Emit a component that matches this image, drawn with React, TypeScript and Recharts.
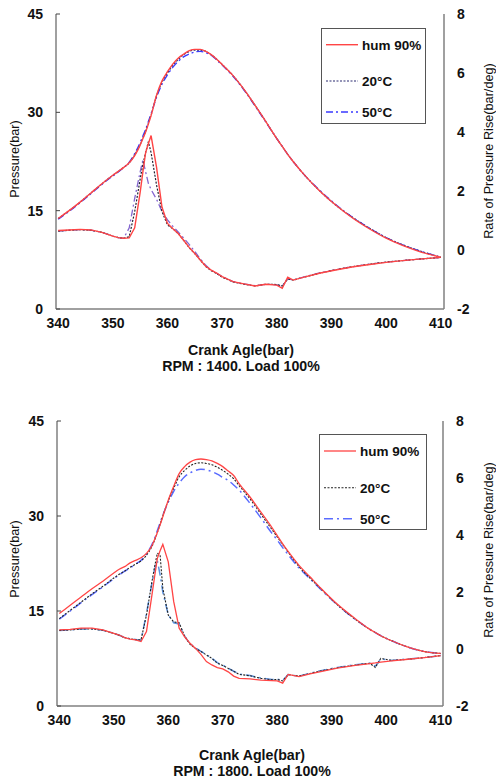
import { ComposedChart, Line, XAxis, YAxis } from 'recharts';

// crank angle samples (deg) and readings for RPM 1400
const topAngles = [340, 342, 344, 346, 348, 350, 351, 352, 353, 354, 355, 355.5, 356, 356.5, 357, 358, 359, 360, 361, 362, 363, 364, 365, 366, 367, 368, 369, 370, 372, 374, 376, 378, 380, 381, 382, 383, 385, 388, 391, 394, 397, 400, 403, 406, 410];
const topHumP = [13.8, 15.0, 16.3, 17.7, 19.1, 20.4, 21.0, 21.6, 22.3, 23.4, 25.0, 26.0, 27.0, 28.2, 29.5, 32.6, 34.8, 36.2, 37.4, 38.3, 38.9, 39.4, 39.6, 39.6, 39.3, 38.8, 38.1, 37.3, 35.6, 33.5, 31.1, 28.6, 26.0, 24.8, 23.6, 22.5, 20.5, 17.9, 15.7, 13.8, 12.2, 10.8, 9.7, 8.8, 7.9];
const top20P = [13.8, 15.0, 16.3, 17.7, 19.1, 20.4, 21.0, 21.6, 22.3, 23.5, 25.1, 26.1, 27.1, 28.3, 29.6, 32.5, 34.6, 36.0, 37.2, 38.1, 38.8, 39.3, 39.5, 39.5, 39.3, 38.8, 38.1, 37.3, 35.6, 33.5, 31.1, 28.6, 26.0, 24.8, 23.6, 22.5, 20.5, 17.9, 15.7, 13.9, 12.3, 10.9, 9.8, 8.9, 7.9];
const top50P = [13.7, 14.9, 16.2, 17.6, 19.0, 20.3, 20.9, 21.6, 22.4, 23.7, 25.4, 26.4, 27.4, 28.6, 29.8, 32.3, 34.3, 35.7, 36.9, 37.8, 38.5, 38.9, 39.2, 39.3, 39.1, 38.7, 38.0, 37.2, 35.5, 33.4, 31.0, 28.5, 26.0, 24.8, 23.6, 22.5, 20.5, 18.0, 15.8, 13.9, 12.3, 10.9, 9.8, 8.9, 7.9];
const topHumR = [0.66, 0.68, 0.70, 0.68, 0.60, 0.47, 0.42, 0.40, 0.41, 0.75, 1.95, 2.65, 3.30, 3.60, 3.88, 2.80, 1.45, 0.90, 0.72, 0.55, 0.32, 0.08, -0.12, -0.34, -0.55, -0.68, -0.78, -0.90, -1.07, -1.15, -1.22, -1.16, -1.19, -1.30, -0.92, -1.02, -0.92, -0.78, -0.67, -0.57, -0.49, -0.42, -0.36, -0.31, -0.25];
const top20R = [0.64, 0.67, 0.69, 0.67, 0.60, 0.47, 0.42, 0.40, 0.45, 1.30, 2.40, 2.90, 3.30, 3.67, 3.30, 2.20, 1.30, 0.85, 0.72, 0.55, 0.32, 0.07, -0.12, -0.34, -0.56, -0.70, -0.80, -0.92, -1.08, -1.16, -1.22, -1.16, -1.17, -1.22, -0.98, -1.02, -0.92, -0.78, -0.66, -0.56, -0.48, -0.41, -0.36, -0.31, -0.25];
const top50R = [0.64, 0.67, 0.69, 0.67, 0.60, 0.47, 0.42, 0.40, 0.75, 1.75, 2.65, 3.05, 2.65, 2.26, 2.05, 1.72, 1.30, 1.02, 0.80, 0.60, 0.40, 0.18, -0.05, -0.30, -0.52, -0.68, -0.79, -0.90, -1.07, -1.15, -1.21, -1.16, -1.18, -1.22, -0.98, -1.02, -0.91, -0.77, -0.66, -0.56, -0.48, -0.41, -0.36, -0.31, -0.25];

// readings for RPM 1800
const btmAngles = [340, 342, 344, 346, 348, 350, 351, 352, 353, 354, 355, 356, 357, 357.5, 358, 358.5, 359, 360, 361, 362, 363, 364, 365, 366, 367, 368, 369, 370, 371, 372, 373, 375, 377, 379, 380, 381, 382, 384, 386, 388, 391, 394, 397, 398, 399, 401, 404, 407, 410];
const btmHumP = [14.6, 15.9, 17.2, 18.5, 19.7, 21.0, 21.6, 22.0, 22.6, 23.0, 23.4, 24.1, 25.3, 26.3, 27.4, 28.6, 29.9, 32.5, 34.7, 36.7, 37.8, 38.5, 38.9, 39.0, 38.9, 38.7, 38.3, 37.8, 37.1, 36.4, 35.1, 33.0, 30.6, 28.2, 26.9, 25.6, 24.4, 22.2, 20.4, 18.6, 16.1, 14.0, 12.1, 11.6, 11.1, 10.3, 9.3, 8.6, 8.3];
const btm20P = [13.8, 15.1, 16.4, 17.7, 18.9, 20.2, 20.8, 21.3, 21.9, 22.4, 22.9, 23.8, 25.2, 26.2, 27.4, 28.7, 30.0, 32.4, 34.4, 36.2, 37.2, 37.9, 38.3, 38.4, 38.3, 38.1, 37.7, 37.2, 36.6, 35.9, 34.8, 32.7, 30.3, 27.9, 26.7, 25.5, 24.3, 22.0, 20.2, 18.5, 16.0, 13.9, 12.1, 11.6, 11.1, 10.3, 9.3, 8.6, 8.3];
const btm50P = [13.7, 15.0, 16.3, 17.6, 18.8, 20.1, 20.7, 21.3, 21.8, 22.4, 23.0, 24.0, 25.5, 26.5, 27.7, 28.9, 30.1, 32.2, 33.9, 35.2, 36.2, 36.8, 37.2, 37.4, 37.3, 37.0, 36.6, 36.1, 35.6, 34.9, 34.1, 32.0, 29.7, 27.3, 26.2, 25.0, 23.9, 21.8, 20.1, 18.4, 16.0, 13.9, 12.1, 11.6, 11.1, 10.3, 9.3, 8.6, 8.3];
const btmHumR = [0.67, 0.69, 0.73, 0.73, 0.67, 0.55, 0.49, 0.40, 0.35, 0.32, 0.26, 0.61, 1.89, 2.55, 3.18, 3.45, 3.67, 3.06, 1.66, 0.73, 0.43, 0.20, 0.02, -0.19, -0.44, -0.56, -0.65, -0.70, -0.80, -0.95, -1.03, -1.05, -1.09, -1.11, -1.12, -1.20, -0.89, -0.97, -0.87, -0.79, -0.67, -0.58, -0.51, -0.49, -0.46, -0.42, -0.36, -0.30, -0.23];
const btm20R = [0.65, 0.67, 0.70, 0.70, 0.66, 0.55, 0.48, 0.40, 0.36, 0.33, 0.32, 1.19, 2.36, 2.90, 3.36, 3.30, 2.13, 1.19, 0.95, 0.92, 0.45, 0.16, 0.02, -0.09, -0.21, -0.33, -0.50, -0.58, -0.68, -0.78, -0.89, -0.94, -1.03, -1.08, -1.07, -1.12, -0.90, -0.95, -0.86, -0.77, -0.66, -0.57, -0.50, -0.65, -0.33, -0.40, -0.36, -0.30, -0.23];
const btm50R = [0.65, 0.67, 0.70, 0.70, 0.66, 0.55, 0.48, 0.40, 0.36, 0.33, 0.30, 1.25, 2.30, 2.80, 3.10, 2.60, 2.00, 1.20, 0.92, 0.88, 0.45, 0.18, 0.04, -0.08, -0.20, -0.32, -0.48, -0.57, -0.67, -0.78, -0.88, -0.93, -1.02, -1.07, -1.06, -1.11, -0.90, -0.95, -0.85, -0.76, -0.65, -0.56, -0.50, -0.60, -0.35, -0.40, -0.35, -0.30, -0.23];

const seriesNames = ['hum 90%', '20°C', '50°C'];
const angleTicks = [340, 350, 360, 370, 380, 390, 400, 410];
const pressureTicks = [0, 15, 30, 45];
const rateTicks = [-2, 0, 2, 4, 6, 8];

const FONT = '"Liberation Sans", Arial, Helvetica, sans-serif';

function buildRows(angles: number[], hp: number[], p20: number[], p50: number[], hr: number[], r20: number[], r50: number[]) {
  return angles.map((a, i) => ({
    angle: a,
    humP: hp[i],
    p20: p20[i],
    p50: p50[i],
    humR: hr[i],
    r20: r20[i],
    r50: r50[i],
  }));
}

const topRows = buildRows(topAngles, topHumP, top20P, top50P, topHumR, top20R, top50R);
const btmRows = buildRows(btmAngles, btmHumP, btm20P, btm50P, btmHumR, btm20R, btm50R);

type Style = { color: string; dash?: string; width: number };

function Legend({ left, top, w, h, rows, styles }: { left: number; top: number; w: number; h: number; rows: number[]; styles: Style[] }) {
  return (
    <div style={{ position: 'absolute', left, top, width: w, height: h, border: '1.5px solid #555', boxSizing: 'border-box', background: '#fff' }}>
      <svg width={w - 3} height={h - 3} style={{ display: 'block' }}>
        {seriesNames.map((name, i) => (
          <g key={name}>
            <line x1={4} x2={36} y1={rows[i]} y2={rows[i]} stroke={styles[i].color} strokeWidth={styles[i].width} strokeDasharray={styles[i].dash} />
            <text x={40} y={rows[i]} dy="0.36em" fontFamily={FONT} fontWeight="bold" fontSize={13.5} fill="#111">
              {name}
            </text>
          </g>
        ))}
      </svg>
    </div>
  );
}

function Panel({
  rows, top, height, margin, domain, pStyles, rStyles,
}: {
  rows: any[]; top: number; height: number;
  margin: { top: number; right: number; bottom: number; left: number };
  domain: [number, number]; pStyles: Style[]; rStyles: Style[];
}) {
  const axisStroke = '#808080';
  const tickStyle = { fontFamily: FONT, fontWeight: 'bold' as const, fontSize: 14, fill: '#111' };
  return (
    <div style={{ position: 'absolute', left: 0, top }}>
      <ComposedChart width={496} height={height} data={rows} margin={margin}>
        <XAxis dataKey="angle" type="number" domain={domain} ticks={angleTicks} allowDataOverflow
          height={30} tickLine={false} tickSize={0} tickMargin={9}
          axisLine={{ stroke: axisStroke, strokeWidth: 1.5 }} tick={tickStyle} />
        <XAxis xAxisId="border" orientation="top" dataKey="angle" type="number" domain={domain} allowDataOverflow
          height={0} tick={false} tickLine={false} axisLine={{ stroke: axisStroke, strokeWidth: 1.5 }} />
        <YAxis yAxisId="p" domain={[0, 45]} ticks={pressureTicks} width={44} allowDataOverflow
          tickSize={-4} tickMargin={17} tickLine={{ stroke: '#444' }}
          axisLine={{ stroke: axisStroke, strokeWidth: 1.5 }} tick={tickStyle} />
        <YAxis yAxisId="r" orientation="right" domain={[-2, 8]} ticks={rateTicks} width={44} allowDataOverflow
          tickSize={0} tickLine={false} tickMargin={13}
          axisLine={{ stroke: axisStroke, strokeWidth: 1.5 }} tick={{ ...tickStyle, textAnchor: 'start' }} />
        {(['p50', 'p20', 'humP'] as const).map((k, j) => {
          const s = pStyles[2 - j];
          return (
            <Line key={k} yAxisId="p" dataKey={k} type="monotone" stroke={s.color} strokeWidth={s.width}
              strokeDasharray={s.dash} dot={false} isAnimationActive={false} />
          );
        })}
        {(['r50', 'r20', 'humR'] as const).map((k, j) => {
          const s = rStyles[2 - j];
          return (
            <Line key={k} yAxisId="r" dataKey={k} type="linear" stroke={s.color} strokeWidth={s.width}
              strokeDasharray={s.dash} dot={false} isAnimationActive={false} />
          );
        })}
      </ComposedChart>
    </div>
  );
}

function VLabel({ x, y, text }: { x: number; y: number; text: string }) {
  return (
    <div style={{
      position: 'absolute', left: x, top: y, transform: 'translate(-50%, -50%) rotate(-90deg)',
      whiteSpace: 'nowrap', fontFamily: FONT, fontSize: 12.7, color: '#111', lineHeight: '14px',
    }}>
      {text}
    </div>
  );
}

function Title({ cx, cy, text }: { cx: number; cy: number; text: string }) {
  return (
    <div style={{
      position: 'absolute', left: cx - 150, top: cy - 8, width: 300, height: 16, textAlign: 'center',
      fontFamily: FONT, fontWeight: 'bold', fontSize: 14.2, lineHeight: '16px', color: '#111', whiteSpace: 'nowrap',
    }}>
      {text}
    </div>
  );
}

const topP: Style[] = [
  { color: '#ff4545', width: 1.4 },
  { color: '#2a2a70', width: 1.2, dash: '2 1.5' },
  { color: '#3a3aff', width: 1.3, dash: '7 3 2 3' },
];
const topR: Style[] = [
  { color: '#ff4545', width: 1.4 },
  { color: '#222233', width: 1.2, dash: '2 1.5' },
  { color: '#8466d0', width: 1.3, dash: '7 3 2 3' },
];
const btmP: Style[] = [
  { color: '#ff4545', width: 1.3 },
  { color: '#222222', width: 1.1, dash: '2 1.5' },
  { color: '#5a6cff', width: 1.5, dash: '9 4 2 4' },
];
const btmR: Style[] = [
  { color: '#ff4545', width: 1.3 },
  { color: '#222222', width: 1.1, dash: '2 1.5' },
  { color: '#5b92e0', width: 1.5, dash: '9 4 2 4' },
];

export default function App() {
  return (
    <div style={{ position: 'relative', width: 496, height: 780, background: '#fff', overflow: 'hidden' }}>
      <style>{'body{margin:0;background:#fff}'}</style>

      <Panel rows={topRows} top={0} height={380}
        margin={{ top: 14, right: 8, bottom: 41, left: 12 }}
        domain={[339.6, 410.6]} pStyles={topP} rStyles={topR} />
      <Legend left={321} top={28} w={105} h={96} rows={[15.7, 52, 83]} styles={topP} />
      <VLabel x={15} y={158.5} text="Pressure(bar)" />
      <VLabel x={489} y={150.5} text="Rate of Pressure Rise(bar/deg)" />
      <Title cx={241} cy={349.8} text="Crank Agle(bar)" />
      <Title cx={241} cy={366.2} text="RPM : 1400. Load 100%" />

      <Panel rows={btmRows} top={400} height={360}
        margin={{ top: 21, right: 9, bottom: 24, left: 13 }}
        domain={[339.58, 410.42]} pStyles={btmP} rStyles={btmR} />
      <Legend left={319} top={434} w={108} h={96} rows={[16, 52.7, 83.7]} styles={btmP} />
      <VLabel x={15} y={559} text="Pressure(bar)" />
      <VLabel x={489} y={550} text="Rate of Pressure Rise(bar/deg)" />
      <Title cx={252} cy={754.8} text="Crank Agle(bar)" />
      <Title cx={252} cy={771.2} text="RPM : 1800. Load 100%" />
    </div>
  );
}
